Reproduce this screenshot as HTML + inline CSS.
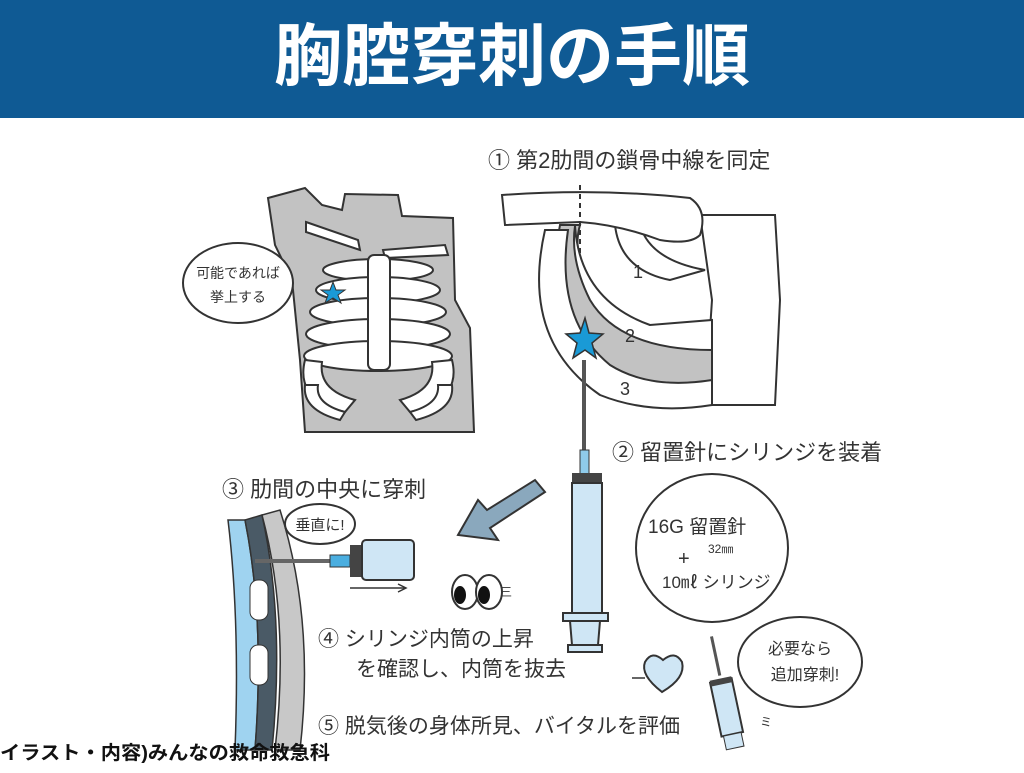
<!DOCTYPE html>
<html><head><meta charset="utf-8"><style>
body{margin:0;width:1024px;height:768px;overflow:hidden;background:#fff;font-family:"Liberation Sans","Noto Sans CJK JP",sans-serif}
</style></head><body>
<svg width="1024" height="768" viewBox="0 0 1024 768" xmlns="http://www.w3.org/2000/svg" font-family="Liberation Sans, Noto Sans CJK JP, sans-serif">
<rect x="0" y="0" width="1024" height="118" fill="#0f5a94"/>
<text x="512" y="80" text-anchor="middle" font-size="68" font-weight="bold" fill="#fff">胸腔穿刺の手順</text>

<!-- torso -->
<path d="M268,198 L305,188 L322,205 L342,210 L345,194 L398,195 L402,216 L453,218 L455,300 L470,328 L474,432 L305,432 L300,360 L292,280 L275,245 Z" fill="#c2c2c2" stroke="#333" stroke-width="2"/>
<g fill="#fff" stroke="#333" stroke-width="2">
<path d="M306,222 L358,240 L360,250 L306,232 Z"/>
<path d="M383,250 L445,245 L448,255 L385,258 Z"/>
<ellipse cx="378" cy="270" rx="55" ry="11"/>
<ellipse cx="378" cy="290" rx="62" ry="13"/>
<ellipse cx="378" cy="312" rx="68" ry="14"/>
<ellipse cx="378" cy="334" rx="72" ry="15"/>
<ellipse cx="378" cy="356" rx="74" ry="15"/>
<path d="M305,360 Q295,400 345,412 L355,400 Q318,390 322,362 Z"/>
<path d="M452,360 Q462,400 410,412 L400,400 Q436,390 432,362 Z"/>
<path d="M305,385 Q302,410 340,420 L345,412 Q315,404 318,385 Z"/>
<path d="M452,385 Q455,410 416,420 L410,412 Q440,404 438,385 Z"/>
<rect x="368" y="255" width="22" height="115" rx="6"/>
</g>
<polygon points="333,282 336,290 345,290 338,295 341,303 333,298 325,303 328,295 321,290 330,290" fill="#1a9ad6" stroke="#333" stroke-width="1"/>
<ellipse cx="238" cy="283" rx="55" ry="40" fill="#fff" stroke="#333" stroke-width="2"/>
<text x="238" y="278" text-anchor="middle" font-size="14" fill="#333">可能であれば</text>
<text x="238" y="302" text-anchor="middle" font-size="14" fill="#333">挙上する</text>

<!-- step 1 -->
<text x="488" y="168" font-size="22" fill="#333">① 第2肋間の鎖骨中線を同定</text>
<path d="M700,215 L775,215 L780,300 L775,405 L705,405 L712,300 Z" fill="#fff" stroke="#333" stroke-width="2"/>
<path d="M560,225 Q540,330 600,380 Q660,410 712,390 L712,330 Q640,350 600,300 Q570,260 580,225 Z" fill="#c2c2c2" stroke="#333" stroke-width="2"/>
<path d="M545,230 Q520,340 600,395 Q650,415 712,405 L712,380 Q650,390 610,365 Q555,320 568,230 Z" fill="#fff" stroke="#333" stroke-width="2"/>
<path d="M575,226 Q580,300 650,325 L712,320 L712,350 Q620,350 590,300 Q570,260 575,226 Z" fill="#fff" stroke="#333" stroke-width="2"/>
<path d="M615,225 Q620,270 670,280 L705,270 Q650,260 640,225 Z" fill="#fff" stroke="#333" stroke-width="2"/>
<path d="M502,195 Q600,188 690,198 Q708,210 700,235 Q690,245 660,240 Q620,225 580,222 L505,225 Z" fill="#fff" stroke="#333" stroke-width="2"/>
<line x1="580" y1="185" x2="580" y2="255" stroke="#333" stroke-width="2" stroke-dasharray="5,4"/>
<text x="633" y="278" font-size="18" fill="#333">1</text>
<text x="625" y="342" font-size="18" fill="#333">2</text>
<text x="620" y="395" font-size="18" fill="#333">3</text>
<line x1="584" y1="360" x2="584" y2="450" stroke="#555" stroke-width="4"/>
<polygon points="585,318 589,333 603,334 592,343 596,358 585,350 573,358 577,343 566,334 580,333" fill="#1a9ad6" stroke="#333" stroke-width="1.5"/>

<!-- syringe big -->
<rect x="580" y="450" width="9" height="25" fill="#8fcbea" stroke="#333"/>
<rect x="572" y="473" width="30" height="10" fill="#444"/>
<rect x="572" y="483" width="30" height="130" fill="#cfe6f5" stroke="#333" stroke-width="2"/>
<rect x="563" y="613" width="45" height="8" fill="#cfe6f5" stroke="#333" stroke-width="2"/>
<path d="M570,621 L600,621 L598,645 L572,645 Z" fill="#cfe6f5" stroke="#333" stroke-width="2"/>
<rect x="568" y="645" width="34" height="7" fill="#cfe6f5" stroke="#333" stroke-width="2"/>
<text x="612" y="460" font-size="22" fill="#333">② 留置針にシリンジを装着</text>
<ellipse cx="712" cy="548" rx="76" ry="74" fill="#fff" stroke="#333" stroke-width="2"/>
<text x="648" y="533" font-size="19" fill="#333">16G 留置針</text>
<text x="708" y="553" font-size="12" fill="#333">32㎜</text>
<text x="678" y="565" font-size="20" fill="#333">+</text>
<text x="662" y="588" font-size="17" fill="#333">10㎖ シリンジ</text>

<!-- arrow -->
<path d="M545,492 L535,480 L487,510 L478,500 L458,535 L498,540 L490,528 Z" fill="#8aa8bd" stroke="#333" stroke-width="2"/>

<!-- step 3 -->
<text x="222" y="497" font-size="22" fill="#333">③ 肋間の中央に穿刺</text>
<path d="M228,520 Q240,620 235,750 L255,750 Q265,620 245,520 Z" fill="#9fd3f0" stroke="#333" stroke-width="1.5"/>
<path d="M245,520 Q265,620 255,750 L272,750 Q285,620 262,515 Z" fill="#4a5a66" stroke="#333" stroke-width="1.5"/>
<path d="M262,515 Q290,620 275,750 L300,750 Q315,620 280,510 Z" fill="#c8c8c8" stroke="#333" stroke-width="1.5"/>
<rect x="250" y="580" width="18" height="40" rx="8" fill="#fff" stroke="#333"/>
<rect x="250" y="645" width="18" height="40" rx="8" fill="#fff" stroke="#333"/>
<line x1="255" y1="561" x2="330" y2="561" stroke="#666" stroke-width="4"/>
<rect x="330" y="555" width="20" height="12" fill="#4aaee0" stroke="#333"/>
<rect x="350" y="545" width="12" height="32" fill="#444"/>
<rect x="362" y="540" width="52" height="40" rx="4" fill="#cfe6f5" stroke="#333" stroke-width="2"/>
<line x1="350" y1="588" x2="405" y2="588" stroke="#333" stroke-width="1.5"/><polyline points="398,584 406,588 398,592" fill="none" stroke="#333" stroke-width="1.5"/>
<ellipse cx="320" cy="524" rx="35" ry="20" fill="#fff" stroke="#333" stroke-width="2"/>
<text x="320" y="530" text-anchor="middle" font-size="15" fill="#333">垂直に!</text>
<ellipse cx="465" cy="592" rx="13" ry="17" fill="#fff" stroke="#333" stroke-width="2"/>
<ellipse cx="489" cy="592" rx="13" ry="17" fill="#fff" stroke="#333" stroke-width="2"/>
<ellipse cx="460" cy="595" rx="6" ry="9" fill="#111"/><ellipse cx="484" cy="595" rx="6" ry="9" fill="#111"/>
<text x="500" y="596" font-size="12" fill="#333">三</text>

<text x="318" y="646" font-size="21" fill="#333">④ シリンジ内筒の上昇</text>
<text x="356" y="676" font-size="21" fill="#333">を確認し、内筒を抜去</text>
<text x="318" y="733" font-size="21" fill="#333">⑤ 脱気後の身体所見、バイタルを評価</text>

<!-- heart & small syringe -->
<path d="M662,692 Q640,675 645,662 Q652,650 663,660 Q675,650 682,662 Q686,678 662,692 Z" fill="#cfe6f5" stroke="#333" stroke-width="2"/>
<polyline points="632,678 645,678 M682,675 688,655 692,690 698,682" fill="none" stroke="#333" stroke-width="1.5"/>
<g transform="rotate(-12 725 700)">
<line x1="725" y1="635" x2="725" y2="675" stroke="#555" stroke-width="3"/>
<rect x="714" y="680" width="22" height="55" fill="#cfe6f5" stroke="#333" stroke-width="2"/>
<rect x="714" y="678" width="22" height="6" fill="#444"/>
<rect x="716" y="735" width="18" height="14" fill="#cfe6f5" stroke="#333"/>
</g>
<text x="760" y="726" font-size="12" fill="#333">ミ</text>
<ellipse cx="800" cy="662" rx="62" ry="45" fill="#fff" stroke="#333" stroke-width="2"/>
<text x="800" y="654" text-anchor="middle" font-size="16" fill="#333">必要なら</text>
<text x="805" y="680" text-anchor="middle" font-size="16" fill="#333">追加穿刺!</text>

<text x="0" y="759" font-size="19" font-weight="bold" fill="#111" textLength="330" lengthAdjust="spacingAndGlyphs">イラスト・内容)みんなの救命救急科</text>
</svg>
</body></html>
